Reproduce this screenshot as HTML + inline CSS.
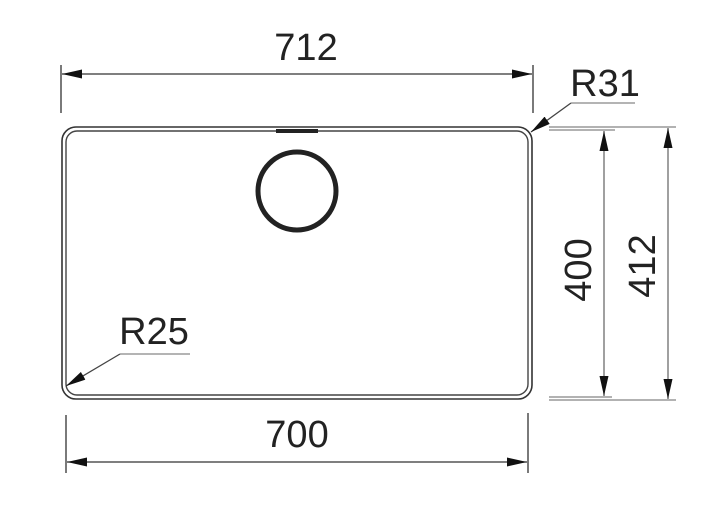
<!DOCTYPE html>
<html><head><meta charset="utf-8"><style>
html,body{margin:0;padding:0;background:#fff;}
svg{display:block}
text{font-family:"Liberation Sans",Arial,sans-serif;fill:#222;}
</style></head><body>
<svg width="727" height="519" viewBox="0 0 727 519" xmlns="http://www.w3.org/2000/svg">
<defs>
<marker id="a" viewBox="0 0 10 10" refX="10" refY="5" markerWidth="20" markerHeight="9" markerUnits="userSpaceOnUse" orient="auto-start-reverse" preserveAspectRatio="none"><path d="M0,0 L10,5 L0,10 z" fill="#111"/></marker>
</defs>
<rect x="62" y="127" width="470" height="272" rx="14" fill="none" stroke="#333" stroke-width="1.6"/>
<rect x="66" y="131" width="462" height="264" rx="11" fill="none" stroke="#444" stroke-width="1.4"/>
<rect x="276" y="129" width="42" height="4" fill="#222"/>
<circle cx="297" cy="191" r="39" fill="none" stroke="#222" stroke-width="5"/>
<g stroke="#333" stroke-width="1.3">
<line x1="61" y1="65" x2="61" y2="113"/>
<line x1="533" y1="65" x2="533" y2="113"/>
<line x1="62" y1="74" x2="532" y2="74" marker-start="url(#a)" marker-end="url(#a)"/>
<line x1="66" y1="415" x2="66" y2="473"/>
<line x1="528" y1="413" x2="528" y2="473"/>
<line x1="67" y1="462" x2="527" y2="462" marker-start="url(#a)" marker-end="url(#a)"/>
</g>
<g stroke="#999" stroke-width="1.6">
<line x1="549" y1="127" x2="676" y2="127"/>
<line x1="549" y1="130" x2="615" y2="130"/>
<line x1="549" y1="397" x2="612" y2="397"/>
<line x1="549" y1="400" x2="676" y2="400"/>
</g>
<g stroke="#777" stroke-width="1.4">
<line x1="604" y1="131" x2="604" y2="396" marker-start="url(#a)" marker-end="url(#a)"/>
<line x1="668" y1="128" x2="668" y2="399" marker-start="url(#a)" marker-end="url(#a)"/>
</g>
<g stroke="#444" stroke-width="1.3" fill="none">
<line x1="571" y1="103" x2="635" y2="103" stroke="#888"/>
<line x1="571" y1="103" x2="531" y2="132" marker-end="url(#a)"/>
<line x1="120" y1="354" x2="190" y2="354" stroke="#888"/>
<line x1="120" y1="354" x2="66" y2="386" marker-end="url(#a)"/>
</g>
<text x="306" y="60" font-size="38" text-anchor="middle">712</text>
<text x="297" y="447" font-size="38" text-anchor="middle">700</text>
<text x="605" y="96" font-size="38" text-anchor="middle">R31</text>
<text x="154" y="344" font-size="38" text-anchor="middle">R25</text>
<text transform="translate(591,270) rotate(-90)" font-size="38" text-anchor="middle">400</text>
<text transform="translate(655,266) rotate(-90)" font-size="38" text-anchor="middle">412</text>
</svg>
</body></html>
